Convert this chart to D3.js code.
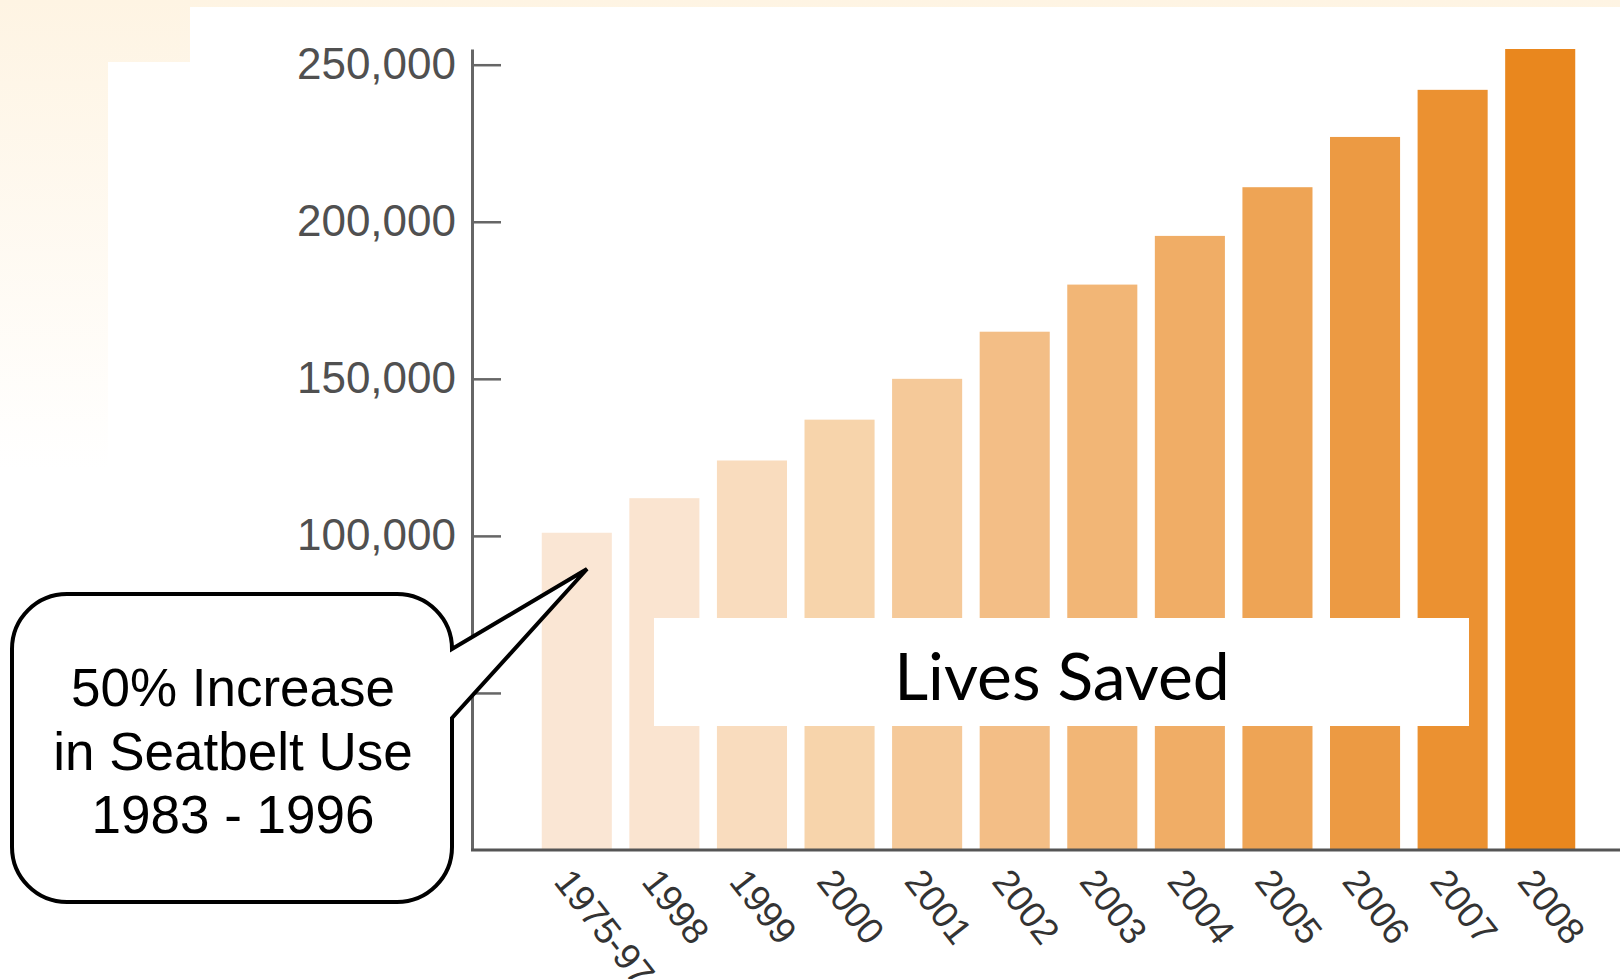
<!doctype html>
<html lang="en">
<head>
  <meta charset="utf-8">
  <title>Lives Saved</title>
  <style>
    body { margin: 0; background: #fff; }
    #chart { width: 1620px; height: 979px; }
    .y-axis text { font: 44px "Liberation Sans", Arial, sans-serif; fill: #505050; }
    .x-axis text { font: 37px "Liberation Sans", Arial, sans-serif; fill: #333; }
    .callout-text { font: 53px "Liberation Sans", Arial, sans-serif; fill: #000; }
    .title-text { font: 66px Lato, "Open Sans", sans-serif; fill: #000; }
  </style>
</head>
<body>
  <div id="chart"></div>
  <script src="https://cdn.jsdelivr.net/npm/d3@7"></script>
  <script>
// data
const categories = ['1975-97', '1998', '1999', '2000', '2001', '2002', '2003', '2004', '2005', '2006', '2007', '2008'];
const livesSaved = [101000, 112000, 124000, 137000, 150000, 165000, 180000, 195500, 211000, 227000, 242000, 255000];
const yTicks = [50000, 100000, 150000, 200000, 250000];
const calloutLines = ['50% Increase', 'in Seatbelt Use', '1983 - 1996'];
const titleLabel = 'Lives Saved';

const width = 1620;
const height = 979;

const svg = d3.select('#chart')
  .append('svg')
  .attr('width', width)
  .attr('height', height);

// cream slide background fading to white
const defs = svg.append('defs');
const grad = defs.append('linearGradient')
  .attr('id', 'bg')
  .attr('gradientUnits', 'userSpaceOnUse')
  .attr('x1', 0).attr('y1', 0).attr('x2', 0).attr('y2', 470);
grad.append('stop').attr('offset', 0).attr('stop-color', '#fef4e3');
grad.append('stop').attr('offset', 1).attr('stop-color', '#ffffff');

svg.append('rect').attr('width', width).attr('height', height).attr('fill', 'url(#bg)');
// white picture pasted on top
svg.append('rect').attr('x', 190).attr('y', 7).attr('width', width - 190).attr('height', height).attr('fill', '#fff');
svg.append('rect').attr('x', 108).attr('y', 62).attr('width', width - 108).attr('height', height).attr('fill', '#fff');

// scales
const x = d3.scaleBand()
  .domain(categories)
  .range([533, 1584])
  .paddingInner(0.2)
  .paddingOuter(0.1);

const y = d3.scaleLinear()
  .domain([0, 255000])
  .range([850, 49]);

// light peach to deep orange, sampled off the bars
const color = d3.scaleLinear()
  .domain([0, 1, 3, 5, 7, 9, 11])
  .range(['#fae6d4', '#fae4d0', '#f7d4ab', '#f3be86', '#f0ad66', '#ec9a43', '#e9871e']);

// bars
svg.append('g')
  .selectAll('rect')
  .data(livesSaved)
  .join('rect')
  .attr('x', (d, i) => x(categories[i]))
  .attr('y', d => y(d))
  .attr('width', x.bandwidth())
  .attr('height', d => y(0) - y(d))
  .attr('fill', (d, i) => color(i));

// y axis, ticks pointing into the plot
const yAxis = svg.append('g')
  .attr('class', 'y-axis')
  .attr('transform', 'translate(472,0)')
  .call(d3.axisLeft(y)
    .tickValues(yTicks)
    .tickFormat(d3.format(','))
    .tickSizeInner(-29)
    .tickSizeOuter(0)
    .tickPadding(16));
yAxis.select('.domain').attr('stroke', '#666').attr('stroke-width', 3);
yAxis.selectAll('.tick line').attr('stroke', '#666').attr('stroke-width', 2.5);

// baseline runs across to the right edge
svg.append('line')
  .attr('x1', 471).attr('x2', width)
  .attr('y1', y(0)).attr('y2', y(0))
  .attr('stroke', '#555').attr('stroke-width', 3);

// x axis labels, rotated
const xAxis = svg.append('g')
  .attr('class', 'x-axis')
  .attr('transform', `translate(0,${y(0)})`)
  .call(d3.axisBottom(x).tickSize(0));
xAxis.select('.domain').remove();
xAxis.selectAll('text')
  .attr('x', 0).attr('y', 0).attr('dy', 0)
  .attr('text-anchor', 'start')
  .attr('transform', 'translate(-24,32) rotate(52)');

// "Lives Saved" label box
svg.append('rect')
  .attr('x', 654).attr('y', 618)
  .attr('width', 815).attr('height', 108)
  .attr('fill', '#fff');
svg.append('text')
  .attr('class', 'title-text')
  .attr('x', 1062).attr('y', 700)
  .attr('text-anchor', 'middle')
  .text(titleLabel);

// speech bubble callout
const bx0 = 12, bx1 = 452, by0 = 594, by1 = 902, r = 55;
const bubble = d3.path();
bubble.moveTo(bx0 + r, by0);
bubble.lineTo(bx1 - r, by0);
bubble.arcTo(bx1, by0, bx1, by0 + r, r);
bubble.lineTo(587, 569);
bubble.lineTo(bx1, 718);
bubble.lineTo(bx1, by1 - r);
bubble.arcTo(bx1, by1, bx1 - r, by1, r);
bubble.lineTo(bx0 + r, by1);
bubble.arcTo(bx0, by1, bx0, by1 - r, r);
bubble.lineTo(bx0, by0 + r);
bubble.arcTo(bx0, by0, bx0 + r, by0, r);
bubble.closePath();

svg.append('path')
  .attr('d', bubble.toString())
  .attr('fill', '#fff')
  .attr('stroke', '#000')
  .attr('stroke-width', 4)
  .attr('stroke-linejoin', 'miter');

svg.append('g')
  .selectAll('text')
  .data(calloutLines)
  .join('text')
  .attr('class', 'callout-text')
  .attr('x', 233)
  .attr('y', (d, i) => 706 + i * 63.5)
  .attr('text-anchor', 'middle')
  .text(d => d);
  </script>
</body>
</html>
